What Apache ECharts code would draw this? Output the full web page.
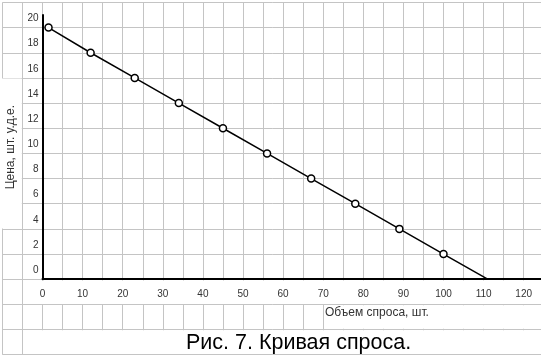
<!DOCTYPE html>
<html>
<head>
<meta charset="utf-8">
<script src="https://cdn.jsdelivr.net/npm/echarts@6/dist/echarts.min.js"></script>
<style>
html,body{margin:0;padding:0;background:#fff;}
#chart{width:541px;height:356px;}
</style>
</head>
<body>
<div id="chart"></div>
<script>
// Data
var quantity = [1.5, 12, 23, 34, 45, 56, 67, 78, 89, 100, 111];
var price = [20, 18, 16, 14, 12, 10, 8, 6, 4, 2, 0];
var xTitle = 'Объем спроса, шт.';
var yTitle = 'Цена, шт. у.д.е.';
var figTitle = 'Рис. 7. Кривая спроса.';

var FONT = 'Liberation Sans, Arial, sans-serif';
var pts = quantity.map(function (q, i) {
  var p = { value: [q, price[i]] };
  if (i === quantity.length - 1) { p.symbol = 'none'; }
  return p;
});

var chart = echarts.init(document.getElementById('chart'), null, { renderer: 'canvas' });
chart.setOption({
  animation: false,
  backgroundColor: '#fff',
  textStyle: { fontFamily: FONT },
  title: [
    { text: xTitle, left: 325, top: 307, z: 5,
      textStyle: { fontSize: 12, fontWeight: 'normal', color: '#333', fontFamily: FONT }, padding: 0 },
    { text: figTitle, left: 186, top: 332, z: 5,
      textStyle: { fontSize: 21.5, fontWeight: 'normal', color: '#000', fontFamily: FONT }, padding: 0 }
  ],
  grid: [
    { left: 42.5, top: 15, width: 501.25, height: 264.2, containLabel: false, outerBoundsMode: 'none' },
    { left: 2.4, top: 2.44, width: 541.35, height: 352.24, containLabel: false, outerBoundsMode: 'none' }
  ],
  xAxis: [
    { type: 'value', gridIndex: 0, min: 0, max: 125, interval: 10, z: 2,
      axisLine: { show: true, onZero: false, lineStyle: { color: '#000', width: 2 } },
      axisTick: { show: false }, splitLine: { show: false },
      axisLabel: { margin: 10, fontSize: 10, color: '#333', fontFamily: FONT,
        formatter: function (v) { return v <= 120 ? String(v) : ''; } } },
    { type: 'value', gridIndex: 1, min: -10, max: 125, interval: 5, z: 0,
      axisLine: { show: false }, axisTick: { show: false }, axisLabel: { show: false },
      splitLine: { show: true, lineStyle: { color: '#c4c4c4', width: 1 } } }
  ],
  yAxis: [
    { type: 'value', gridIndex: 0, min: 0, max: 21, interval: 2, z: 2,
      name: yTitle, nameLocation: 'middle', nameGap: 25, nameRotate: 90,
      nameTextStyle: { fontSize: 12, color: '#333', fontFamily: FONT },
      axisLine: { show: true, onZero: false, lineStyle: { color: '#000', width: 2 } },
      axisTick: { show: false }, splitLine: { show: false },
      axisLabel: { margin: 4, fontSize: 10, color: '#333', fontFamily: FONT,
        verticalAlign: 'bottom', lineHeight: 18,
        formatter: function (v) { return v <= 20 ? String(v) : ''; } } },
    { type: 'value', gridIndex: 1, min: -6, max: 22, interval: 2, z: 0,
      axisLine: { show: false }, axisTick: { show: false }, axisLabel: { show: false },
      splitLine: { show: true, lineStyle: { color: '#c4c4c4', width: 1 } } }
  ],
  graphic: [
    { type: 'rect', z: 1, silent: true, shape: { x: 23.5, y: 280.5, width: 520, height: 23.4 }, style: { fill: '#fff' } },
    { type: 'rect', z: 1, silent: true, shape: { x: 324, y: 305.2, width: 220, height: 23.6 }, style: { fill: '#fff' } },
    { type: 'rect', z: 1, silent: true, shape: { x: 23.5, y: 330.3, width: 520, height: 23.7 }, style: { fill: '#fff' } },
    { type: 'rect', z: 1, silent: true, shape: { x: 0, y: 78.5, width: 21.8, height: 150 }, style: { fill: '#fff' } }
  ],
  series: [
    { type: 'line', xAxisIndex: 0, yAxisIndex: 0, data: pts, z: 4,
      symbol: 'circle', symbolSize: 7, showAllSymbol: true,
      lineStyle: { color: '#000', width: 1.5 },
      itemStyle: { color: '#fff', borderColor: '#000', borderWidth: 1.5 } }
  ]
});
</script>
</body>
</html>
